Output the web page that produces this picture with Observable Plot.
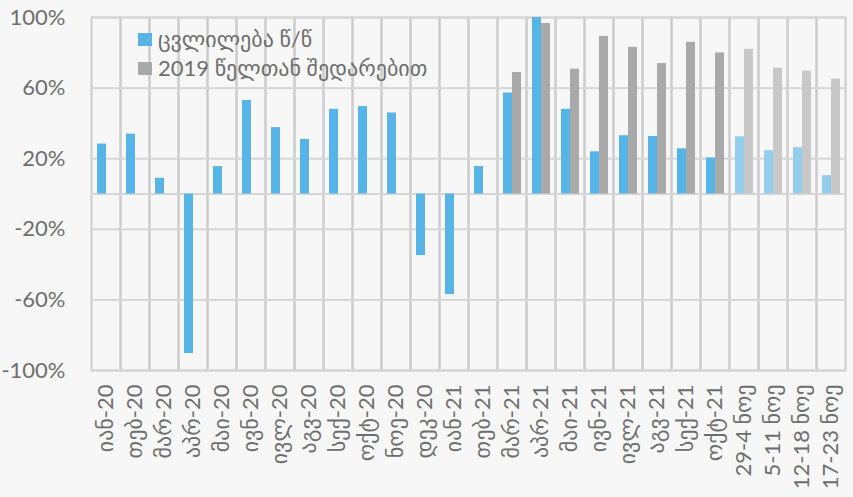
<!DOCTYPE html>
<html><head><meta charset="utf-8">
<script src="https://cdn.jsdelivr.net/npm/d3@7"></script>
<script src="https://cdn.jsdelivr.net/npm/@observablehq/plot@0.6"></script>
<style>
html,body{margin:0;padding:0;background:#f7f7f7;}
#wrap{position:relative;width:853px;height:497px;font-family:Lato,"DejaVu Sans",sans-serif;}
.leg{position:absolute;left:138px;font-size:22px;color:#6e6e6e;display:flex;align-items:center;white-space:nowrap;line-height:1;}
.sw{width:14px;height:13px;margin-right:6px;}
</style></head><body>
<div id="wrap"></div>
<script>
const categories = ["იან-20","თებ-20","მარ-20","აპრ-20","მაი-20","ივნ-20","ივლ-20","აგვ-20","სექ-20","ოქტ-20","ნოე-20","დეკ-20",
  "იან-21","თებ-21","მარ-21","აპრ-21","მაი-21","ივნ-21","ივლ-21","აგვ-21","სექ-21","ოქტ-21",
  "29-4 ნოე","5-11 ნოე","12-18 ნოე","17-23 ნოე"];
const yoy = [28.3, 33.9, 8.9, -90.4, 15.5, 53, 37.6, 30.9, 48, 49.5, 45.9, -34.9,
  -57, 15.5, 57.2, 100, 48, 23.9, 33, 32.6, 25.6, 20.4,
  32.4, 24.5, 26.2, 10.4];
const vs2019 = [null, null, null, null, null, null, null, null, null, null, null, null,
  null, null, 68.8, 96.6, 70.7, 89.3, 83.1, 73.9, 85.9, 79.9,
  82, 71.3, 69.6, 65.1];
const yTicks = [-100, -60, -20, 20, 60, 100];
const seriesNames = ["ცვლილება წ/წ", "2019 წელთან შედარებით"];
const weeklyCount = 4;

const rows = [];
categories.forEach((c, i) => {
  const weekly = i >= categories.length - weeklyCount;
  if (yoy[i] != null) rows.push({cat: c, series: "yoy", value: yoy[i], tone: weekly ? "yoy-w" : "yoy"});
  if (vs2019[i] != null) rows.push({cat: c, series: "vs", value: vs2019[i], tone: weekly ? "vs-w" : "vs"});
});

const font = 'Lato, "DejaVu Sans", sans-serif';
const grid = "#d6d6d6";
const chart = Plot.plot({
  width: 853, height: 497,
  marginLeft: 87, marginRight: 4, marginTop: 17, marginBottom: 127,
  style: {background: "transparent", fontFamily: font, fontSize: "22px", color: "#6e6e6e"},
  fx: {domain: categories, padding: 0, label: null},
  x: {domain: ["yoy", "vs"], paddingInner: 0, paddingOuter: 0.465, align: 0.53, axis: null},
  y: {domain: [-100, 100], axis: null},
  color: {domain: ["yoy", "vs", "yoy-w", "vs-w"], range: ["#56b4e6", "#a9a9a9", "#95cdee", "#c8c8c8"]},
  marks: [
    Plot.frame({stroke: "#cccccc", strokeWidth: 2}),
    Plot.gridY(yTicks, {stroke: grid, strokeOpacity: 1, strokeWidth: 2}),
    Plot.ruleY([0], {stroke: grid, strokeWidth: 2}),
    Plot.barY(rows, {fx: "cat", x: "series", y: "value", fill: "tone"}),
    Plot.axisY(yTicks, {tickSize: 0, tickPadding: 26, tickFormat: d => d + "%", fontSize: 22, fill: "#6e6e6e", label: null}),
    Plot.axisFx({anchor: "bottom", tickRotate: -90, tickSize: 0, tickPadding: 14, label: null, fontSize: 22, fill: "#6e6e6e"})
  ]
});
const wrap = document.getElementById("wrap");
wrap.appendChild(chart);
const legColors = ["#56b4e6", "#a9a9a9"];
seriesNames.forEach((name, i) => {
  const d = document.createElement("div");
  d.className = "leg";
  d.style.top = (28 + i * 29) + "px";
  d.innerHTML = `<span class="sw" style="background:${legColors[i]}"></span><span>${name}</span>`;
  wrap.appendChild(d);
});
</script>
</body></html>
